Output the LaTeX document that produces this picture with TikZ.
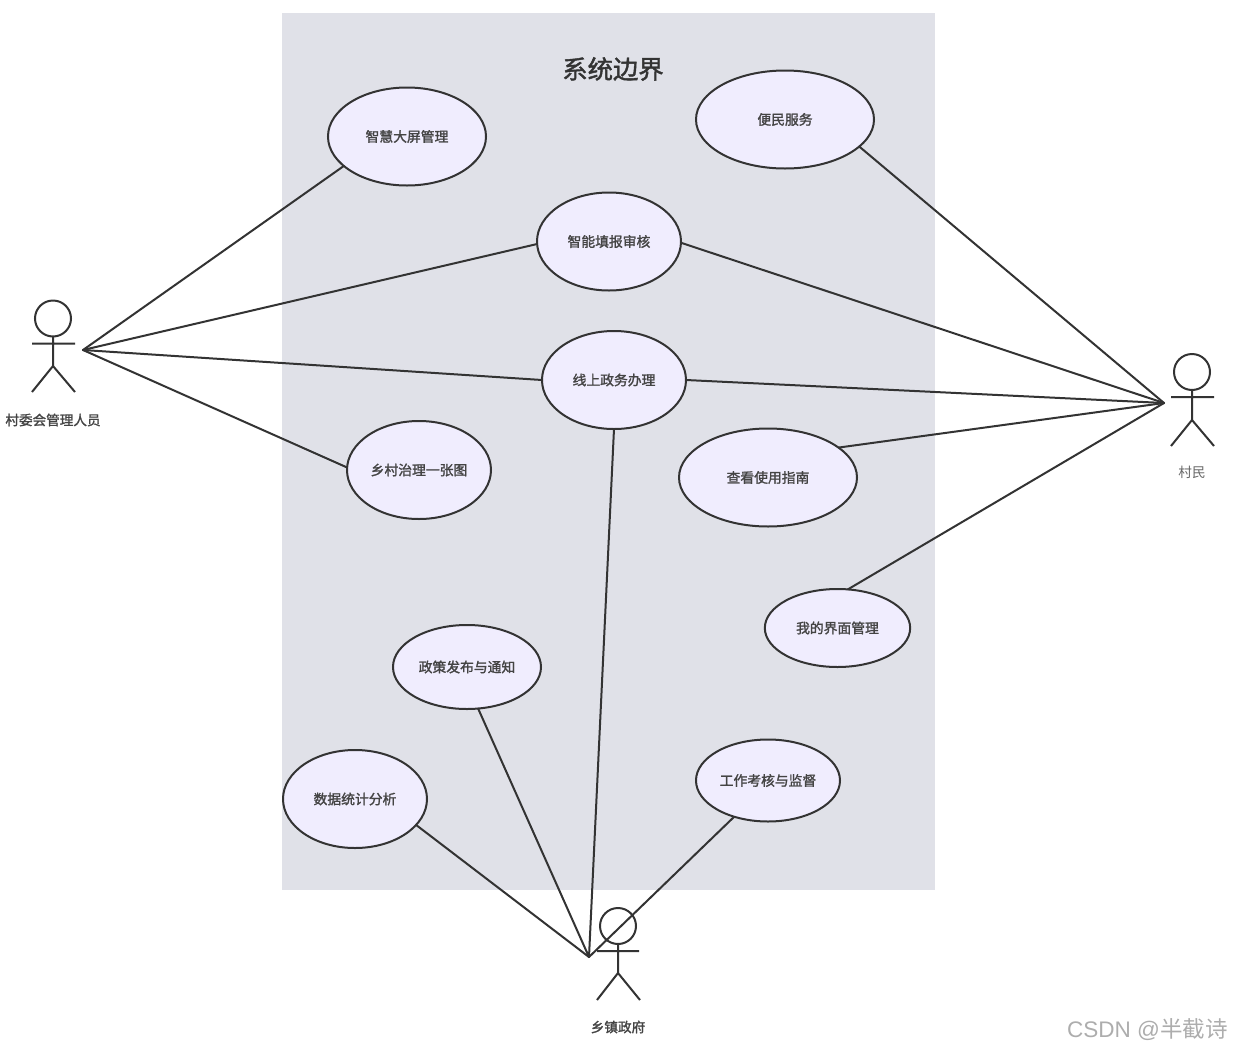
\documentclass[tikz,border=0pt]{standalone}
\usepackage{fontspec}
\setmainfont{Noto Sans CJK SC}
\newfontfamily\medcjk[FakeBold=1.6]{Noto Sans CJK SC}
\newfontfamily\marklatin{Liberation Sans}
\usetikzlibrary{shapes.geometric}
\definecolor{boundfill}{HTML}{E0E1E8}
\definecolor{ucfill}{HTML}{F0EDFE}
\definecolor{ink}{HTML}{333333}
\definecolor{labelink}{HTML}{444444}
\tikzset{
  x=0.75pt,y=-0.75pt,
  wire/.style={draw=ink,line width=1.5pt,line cap=round},
  stick/.style={draw=ink,line width=1.5pt},
  uc/.style={ellipse,draw=ink,fill=ucfill,line width=1.5pt,inner sep=0pt,outer sep=0pt,text=labelink,font=\fontsize{10.35}{12}\medcjk},
  actlabel/.style={text=labelink,inner sep=0pt,font=\fontsize{10.2}{12}\medcjk},
  head/.style={circle,draw=ink,fill=white,line width=1.5pt,minimum size=27pt,inner sep=0pt,outer sep=0pt},
}
\begin{document}
\begin{tikzpicture}
\useasboundingbox (0,0) rectangle (1240,1050);
\node[fill=boundfill,inner sep=0pt,minimum width=489.75pt,minimum height=657.75pt,anchor=north west] (boundary) at (282,13) {};
\node[text=ink,inner sep=0pt,font=\fontsize{19}{22}\medcjk] (title) at (613,69) {系统边界};

% use cases
\node[uc,minimum width=118.5pt,minimum height=73.5pt] (a) at (407,136.5) {智慧大屏管理};
\node[uc,minimum width=133.5pt,minimum height=73.5pt] (b) at (785,119.5) {便民服务};
\node[uc,minimum width=108pt,minimum height=73.5pt] (c) at (609,241.5) {智能填报审核};
\node[uc,minimum width=108pt,minimum height=73.5pt] (d) at (614,380) {线上政务办理};
\node[uc,minimum width=108pt,minimum height=73.5pt] (e) at (419,470) {乡村治理一张图};
\node[uc,minimum width=133.5pt,minimum height=73.5pt] (f) at (768,477.5) {查看使用指南};
\node[uc,minimum width=109pt,minimum height=58.5pt] (g) at (837.5,628) {我的界面管理};
\node[uc,minimum width=111pt,minimum height=63pt] (h) at (467,667) {政策发布与通知};
\node[uc,minimum width=108pt,minimum height=61.5pt] (i) at (768,780.5) {工作考核与监督};
\node[uc,minimum width=108pt,minimum height=73.5pt] (j) at (355,799) {数据统计分析};

% actor: village committee
\node[head] (h1) at (53,318.5) {};
\coordinate (n1) at (53,366);
\coordinate (al1) at (32,343.5);
\coordinate (ar1) at (75,343.5);
\coordinate (fl1) at (32,392);
\coordinate (fr1) at (75,392);
\draw[stick] (h1) -- (n1) (al1) -- (ar1) (fl1) -- (n1) -- (fr1);
\node[actlabel] (lab1) at (53,420) {村委会管理人员};
% actor: villager
\node[head] (h2) at (1192,372) {};
\coordinate (n2) at (1192,420);
\coordinate (al2) at (1171,397);
\coordinate (ar2) at (1214,397);
\coordinate (fl2) at (1171,446);
\coordinate (fr2) at (1214,446);
\draw[stick] (h2) -- (n2) (al2) -- (ar2) (fl2) -- (n2) -- (fr2);
\node[actlabel,text=black!60,font=\fontsize{10.2}{12}\selectfont] (lab2) at (1192,472.5) {村民};
% actor: township government
\node[head,fill=none] (h3) at (618,926) {};
\coordinate (n3) at (618,973);
\coordinate (al3) at (597,951);
\coordinate (ar3) at (639,951);
\coordinate (fl3) at (597,1000);
\coordinate (fr3) at (640,1000);
\draw[stick] (h3) -- (n3) (al3) -- (ar3) (fl3) -- (n3) -- (fr3);
\node[actlabel] (lab3) at (618,1027) {乡镇政府};

% connector hubs
\coordinate (L) at (83,350);
\coordinate (R) at (1164,403);
\coordinate (B) at (589,957);

\draw[wire] (L) -- (a.205);
\draw[wire] (L) -- (c.182);
\draw[wire] (L) -- (d.180);
\draw[wire] (L) -- (e.178);
\draw[wire] (R) -- (b.-20);
\draw[wire] (R) -- (c.-1);
\draw[wire] (R) -- (d.0);
\draw[wire] (R) -- (f.23);
\draw[wire] (R) -- (g.75);
\draw[wire] (B) -- (d.270);
\draw[wire] (B) -- (h.-75);
\draw[wire] (B) -- (j.-23);
\draw[wire] (B) -- (i.227);

\node[text=black!32,inner sep=0pt,anchor=east,font=\fontsize{16.9}{18}\selectfont] (mark) at (1228,1030) {{\marklatin CSDN @}半截诗};
\end{tikzpicture}
\end{document}
